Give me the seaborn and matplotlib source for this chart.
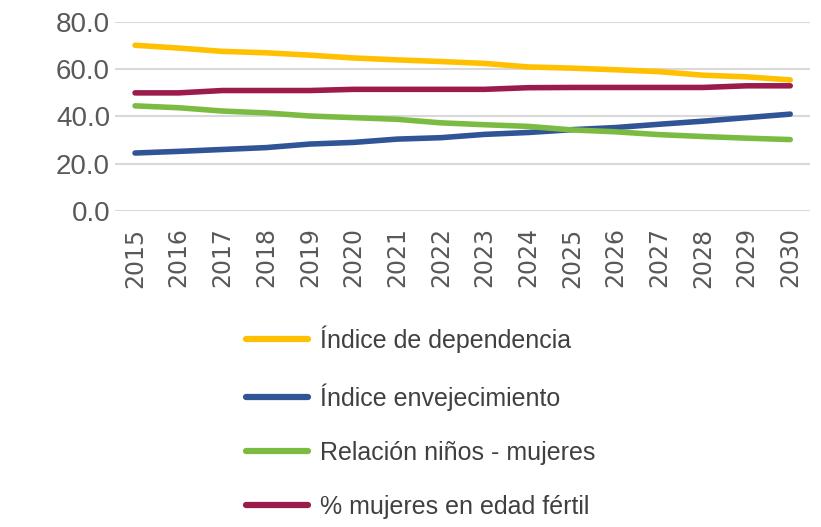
import pandas as pd
import matplotlib.pyplot as plt
import seaborn as sns

# Style
sns.set_theme(style="whitegrid")
plt.rcParams['font.family'] = ['Liberation Sans', 'DejaVu Sans']

years = [str(y) for y in range(2015, 2031)]
dependencia = [70.2, 69.0, 67.6, 67.0, 66.0, 64.8, 64.0, 63.3, 62.5, 61.0, 60.5, 59.8, 59.0, 57.5, 56.8, 55.5]
envejecimiento = [24.5, 25.2, 26.0, 26.8, 28.3, 29.0, 30.4, 31.0, 32.4, 33.2, 34.4, 35.3, 36.7, 38.0, 39.5, 41.0]
ninos_mujeres = [44.5, 43.7, 42.3, 41.5, 40.2, 39.5, 38.8, 37.3, 36.5, 35.8, 34.3, 33.5, 32.3, 31.5, 30.8, 30.2]
mujeres_fertil = [50.0, 50.0, 51.0, 51.0, 51.0, 51.5, 51.5, 51.5, 51.5, 52.2, 52.3, 52.3, 52.3, 52.3, 53.0, 53.0]

labels = ["Índice de dependencia", "Índice envejecimiento",
          "Relación niños - mujeres", "% mujeres en edad fértil"]
colors = ["#FFC000", "#2F5597", "#7CBB42", "#9B1B4B"]

df = pd.DataFrame({
    "year": years * 4,
    "value": dependencia + envejecimiento + ninos_mujeres + mujeres_fertil,
    "serie": [labels[0]] * 16 + [labels[1]] * 16 + [labels[2]] * 16 + [labels[3]] * 16,
})

fig = plt.figure(figsize=(8.21, 5.27), dpi=100)
ax = fig.add_axes([0.14, 0.60, 0.847, 0.358])
sns.lineplot(data=df, x="year", y="value", hue="serie", hue_order=labels,
             palette=colors, linewidth=4, ax=ax, legend=False, sort=False)

ax.set_ylim(0, 80)
ax.set_yticks([0, 20, 40, 60, 80])
ax.set_yticklabels([f"{v:.1f}" for v in [0, 20, 40, 60, 80]], fontsize=20, color="#595959")
ax.set_xlim(-0.46, 15.46)
ax.set_xticks(range(len(years)))
ax.set_xticklabels(years, rotation=90, fontsize=17, color="#595959", family="DejaVu Sans")
ax.tick_params(axis="x", pad=12)
ax.set_xlabel("")
ax.set_ylabel("")
ax.grid(axis="x", visible=False)
ax.grid(axis="y", color="#D9D9D9", linewidth=1.5)
ax.tick_params(axis="both", length=0)
for s in ax.spines.values():
    s.set_visible(False)

handles = [plt.Line2D([], [], color=c, linewidth=4.5) for c in colors]
fig.legend(handles, labels, loc="upper left", bbox_to_anchor=(0.272, 0.425),
           frameon=False, fontsize=18, handlelength=2.5, handletextpad=0.45,
           labelspacing=1.2, labelcolor="#404040")

plt.savefig("out.png", dpi=100)
plt.close()
